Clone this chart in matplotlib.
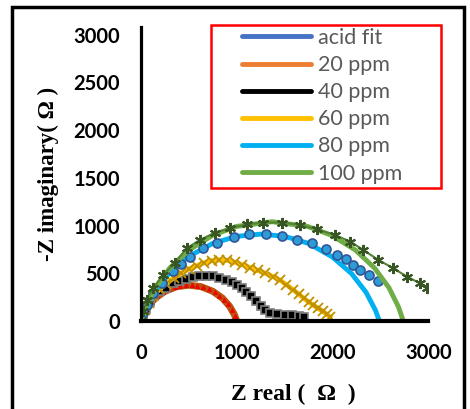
import matplotlib.pyplot as plt
from matplotlib.lines import Line2D
from matplotlib.patches import Rectangle

# Nyquist data (Z real, -Z imaginary in ohm)
acid_x = [0, 10, 25, 40, 55, 65]
acid_y = [0, 18, 28, 25, 12, 0]

ppm20_fit_x = [0, 25, 75, 150, 250, 375, 500, 625, 750, 850, 925, 975, 1000]
ppm20_fit_y = [0, 68, 155, 240, 311, 360, 375, 360, 311, 240, 155, 68, 0]
ppm20_x = [20, 60, 110, 170, 230, 290, 350, 410, 470, 530, 590, 650, 710, 770, 820, 870, 910, 950, 980, 1000]
ppm20_y = [57, 133, 199, 257, 300, 331, 353, 367, 374, 374, 367, 353, 331, 300, 265, 221, 175, 117, 57, 15]

ppm40_x = [0, 20, 50, 90, 140, 200, 260, 330, 400, 470, 540, 610, 680, 750, 820, 890, 950, 1000,
           1050, 1100, 1150, 1200, 1250, 1300, 1350, 1420, 1500, 1580, 1650, 1700]
ppm40_y = [0, 60, 130, 200, 260, 310, 350, 395, 420, 445, 462, 472, 475, 468, 452, 432, 405, 377,
           345, 305, 262, 210, 160, 115, 88, 72, 65, 58, 50, 45]

ppm60_x = [0, 15, 40, 80, 130, 190, 260, 340, 420, 500, 580, 660, 740, 820, 900, 980, 1060, 1140,
           1220, 1300, 1380, 1450, 1520, 1590, 1650, 1700, 1750, 1800, 1850, 1900, 1940, 1975]
ppm60_y = [0, 50, 115, 190, 265, 330, 390, 450, 500, 545, 577, 610, 632, 640, 635, 615, 590, 560,
           530, 500, 465, 430, 380, 325, 280, 238, 200, 168, 132, 100, 70, 45]

ppm80_fit_x = [0, 50, 150, 300, 500, 750, 1000, 1250, 1500, 1750, 2000, 2200, 2350, 2450, 2490]
ppm80_fit_y = [0, 134, 317, 506, 677, 813, 887, 910, 887, 813, 670, 496, 302, 111, 0]
ppm80_x = [20, 60, 130, 220, 330, 420, 512, 651, 798, 972, 1132, 1306, 1470, 1627, 1784, 1933,
           2052, 2143, 2219, 2288, 2386, 2480]
ppm80_y = [80, 170, 290, 400, 520, 600, 674, 762, 821, 877, 909, 912, 891, 849, 814, 755,
           692, 647, 587, 535, 482, 423]

ppm100_fit_x = [0, 50, 150, 300, 500, 750, 1000, 1370, 1740, 1990, 2240, 2440, 2590, 2690, 2740]
ppm100_fit_y = [0, 147, 349, 555, 743, 898, 991, 1040, 991, 898, 743, 555, 349, 147, 0]
ppm100_x = [0, 20, 60, 130, 230, 355, 477, 617, 773, 930, 1104, 1278, 1470, 1661, 1836, 2027,
            2184, 2323, 2480, 2637, 2776, 2915, 2985]
ppm100_y = [0, 100, 220, 350, 480, 611, 762, 849, 926, 971, 1013, 1031, 1031, 1006, 961, 901,
            832, 744, 639, 552, 465, 395, 343]

legend_labels = ['acid fit', '20 ppm', '40 ppm', '60 ppm', '80 ppm', '100 ppm']
legend_colors = ['#4472C4', '#ED7D31', '#000000', '#FFC000', '#00B0F0', '#70AD47']

fig = plt.figure(figsize=(4.7, 4.09), dpi=100)
ax = fig.add_axes([0.300, 0.2152, 0.611, 0.7188])

# curves
ax.plot(acid_x, acid_y, color='#4472C4', lw=3)
ax.plot(ppm20_fit_x, ppm20_fit_y, color='#C0500E', lw=5, solid_capstyle='round')
ax.plot(ppm20_x, ppm20_y, ls='none', marker='^', ms=3, color='#FF0000', mec='#E00000', mew=0.5)
ax.plot(ppm40_x, ppm40_y, color='#808080', lw=3, marker='s', ms=6,
        mfc='#000000', mec='#7F7F7F', mew=1.2)
ax.plot(ppm60_x, ppm60_y, color='#FFC000', lw=3.5, marker='x', ms=7.5,
        mec='#BF9000', mew=1.3)
ax.plot(ppm80_fit_x, ppm80_fit_y, color='#00B0F0', lw=3.5, solid_capstyle='round')
ax.plot(ppm80_x, ppm80_y, ls='none', marker='o', ms=6.5, mfc='#2E9BD6', mec='#2F5597', mew=1.2)
ax.plot(ppm100_fit_x, ppm100_fit_y, color='#70AD47', lw=3.5, solid_capstyle='round')
ax.plot(ppm100_x, ppm100_y, color='#548235', lw=1.5, marker=(6, 2, 0), ms=8,
        mec='#375623', mew=1.5)

ax.set_xlim(0, 3000)
ax.set_ylim(0, 3080)
ax.set_xticks([0, 1000, 2000, 3000])
ax.set_yticks([0, 500, 1000, 1500, 2000, 2500, 3000])
for s in ['top', 'right']:
    ax.spines[s].set_visible(False)
ax.spines['left'].set_linewidth(2.3)
ax.spines['bottom'].set_linewidth(3)
ax.tick_params(axis='both', length=0)
ax.tick_params(axis='x', pad=16)
ax.tick_params(axis='y', pad=15)
for lab in ax.get_xticklabels() + ax.get_yticklabels():
    lab.set_fontfamily('Lato')
    lab.set_fontweight('bold')
    lab.set_fontsize(14.5)

ax.set_xlabel('Z real (  Ω  )', fontfamily='Liberation Serif', fontweight='bold', fontsize=17)
ax.set_ylabel('-Z imaginary( Ω )', fontfamily='Liberation Serif', fontweight='bold', fontsize=16.5)
ax.xaxis.set_label_coords(0.53, -0.215)
ax.yaxis.set_label_coords(-0.285, 0.5)

# legend inside a red box
fig.patches.append(Rectangle((211 / 470, 1 - 188 / 409), 230 / 470, 163 / 409,
                             transform=fig.transFigure, fill=True, fc='white',
                             lw=1.8, ec='#FF0000', zorder=5))
handles = [Line2D([0], [0], color=c, lw=3.5, solid_capstyle='round') for c in legend_colors]
leg = fig.legend(handles, legend_labels, loc='upper left', bbox_to_anchor=(242 / 470, 1 - 28 / 409),
                 prop={'family': 'Lato', 'size': 15.5}, handlelength=3.2, labelspacing=0.33,
                 borderpad=0, handletextpad=0.35, borderaxespad=0, frameon=False)
leg.set_zorder(6)
for t in leg.get_texts():
    t.set_color('#595959')

# black outer border
fig.patches.append(Rectangle((12 / 470, -0.02), 452 / 470, 1.0 - 7 / 409 + 0.02,
                             transform=fig.transFigure, fill=False, lw=2.5, ec='black'))

fig.savefig('out.png', dpi=100)
